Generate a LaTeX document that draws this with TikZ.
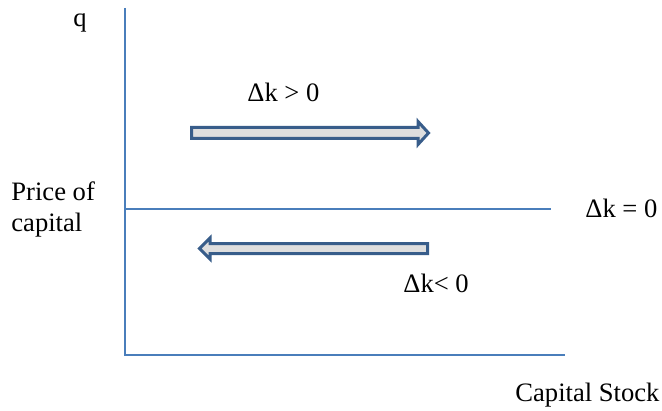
\documentclass[tikz,border=0pt]{standalone}
\usepackage{fontspec}
\setmainfont{Liberation Serif}
\definecolor{axisblue}{RGB}{74,126,187}
\definecolor{arrowedge}{RGB}{56,93,138}
\definecolor{arrowfill}{RGB}{222,222,222}

\begin{document}
\begin{tikzpicture}[x=0.5pt, y=-0.5pt,
    lab/.style={font=\fontsize{13.3}{15.5}\selectfont, inner sep=0pt, anchor=base west},
    axis/.style={color=axisblue, line width=1.1pt},
    fat/.style={draw=arrowedge, fill=arrowfill, line width=1.5pt, line join=miter}]

  \useasboundingbox (0,0) rectangle (662,411);

  % ---- axes and the stationary locus ------------------------------------------
  \coordinate (top)    at (125,8);
  \coordinate (origin) at (125,355);
  \coordinate (right)  at (565,355);
  \coordinate (lockL)  at (125,209);
  \coordinate (lockR)  at (551,209);
  \draw[axis] (top) -- (origin) -- (right);
  \draw[axis] (lockL) -- (lockR);

  % ---- block arrows: capital rises above, falls below --------------------------
  \draw[fat] (191.5,127.5) -- (418,127.5) -- (418,121.5) -- (428.5,133)
     -- (418,144.5) -- (418,138.5) -- (191.5,138.5) -- cycle;
  \draw[fat] (427.5,243.5) -- (210,243.5) -- (210,238) -- (199.5,248.5)
     -- (210,259) -- (210,253.5) -- (427.5,253.5) -- cycle;

  % ---- labels -------------------------------------------------------------------
  \node[lab] (qlab)   at (73,27)   {q};
  \node[lab] (uplab)  at (247,102) {Δk > 0};
  \node[lab] (eqlab)  at (585,217) {Δk = 0};
  \node[lab] (dnlab)  at (403,292) {Δk< 0};
  \node[lab, align=left] (price) at (11,231) {Price of\\capital};
  \node[lab] (stock)  at (515,401) {Capital Stock};
\end{tikzpicture}
\end{document}
